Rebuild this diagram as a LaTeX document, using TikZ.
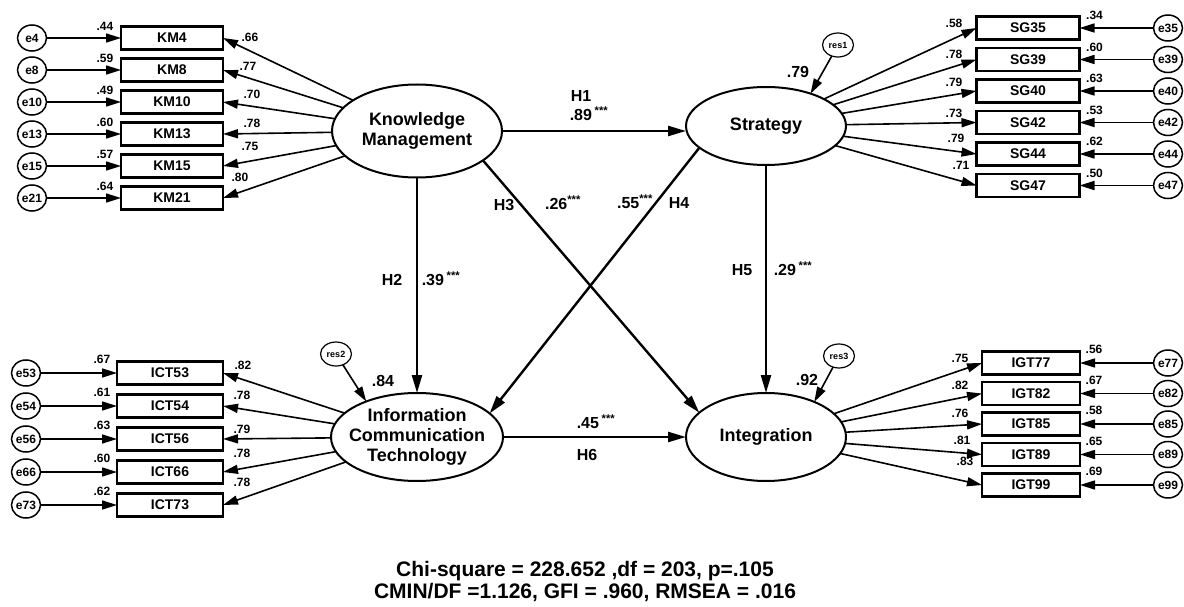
\documentclass[tikz,border=0pt]{standalone}
\usepackage{fontspec}
\setmainfont{Liberation Sans}
\usetikzlibrary{arrows.meta,shapes.geometric,positioning}
\tikzset{
  base/.style={font=\bfseries, align=center, inner sep=0pt, outer sep=0pt},
  latent/.style={ellipse, draw=black, line width=2pt, base, inner xsep=-12pt, font=\fontsize{18}{20}\selectfont\bfseries},
  ind/.style={rectangle, draw=black, line width=2.6pt, minimum width=102pt, minimum height=23pt, base, font=\fontsize{14}{16}\selectfont\bfseries},
  err/.style={ellipse, draw=black, line width=1.5pt, minimum width=29pt, minimum height=26pt, base, inner xsep=-3pt, font=\fontsize{12}{13}\selectfont\bfseries},
  res/.style={ellipse, draw=black, line width=1.2pt, minimum width=31pt, minimum height=24pt, base, font=\fontsize{9}{10}\selectfont\bfseries},
  coef/.style={base, font=\fontsize{12}{14}\selectfont\bfseries},
  hlab/.style={base, font=\fontsize{16}{18}\selectfont\bfseries},
  arrow/.style={-{Triangle[length=15pt,width=9pt]}, line width=1.6pt},
  hyp/.style={-{Triangle[length=18pt,width=10pt]}, line width=2.4pt}
}

\begin{document}
\begin{tikzpicture}[x=1pt, y=-1pt]
  \useasboundingbox (0,0) rectangle (1184,607);

  \node[latent, minimum width=170pt, minimum height=93pt] (KM) at (417,131) {Knowledge\\Management};
  \node[latent, minimum width=160pt, minimum height=78pt] (ST) at (766,126) {Strategy};
  \node[latent, minimum width=172pt, minimum height=88pt] (ICT) at (417,437) {Information\\Communication\\Technology};
  \node[latent, minimum width=160pt, minimum height=88pt] (IG) at (766,437) {Integration};

  \foreach \n/\y/\r/\l/\lx/\ly in {4/38/.44/.66/250/37, 8/70/.59/.77/248/66, 10/102/.49/.70/252/94, 13/134/.60/.78/252/123, 15/166/.57/.75/250/146, 21/198/.64/.80/240/177}{
    \node[ind] (km\n) at (172,\y) {KM\n};
    \node[err] (e\n) at (32,\y) {e\n};
    \node[coef] (rkm\n) at ([xshift=-16pt]km\n.north west) {\r};
    \node[coef] (lkm\n) at (\lx,\ly) {\l};
    \draw[arrow] (e\n) -- (km\n);
    \draw[arrow] (KM) -- (km\n.east);
  }

  \foreach \n/\y/\r/\l/\lx/\ly in {53/373/.67/.82/243/365, 54/406/.61/.78/242/395, 56/439/.63/.79/242/429, 66/472/.60/.78/242/453, 73/505/.62/.78/242/482}{
    \node[ind, minimum width=106pt] (ict\n) at (170,\y) {ICT\n};
    \node[err] (e\n) at (26,\y) {e\n};
    \node[coef] (rict\n) at ([xshift=-15pt,yshift=2pt]ict\n.north west) {\r};
    \node[coef] (lict\n) at (\lx,\ly) {\l};
    \draw[arrow] (e\n) -- (ict\n);
    \draw[arrow] (ICT) -- (ict\n.east);
  }

  \foreach \n/\y/\r/\l/\lx/\ly in {35/28/.34/.58/954/23, 39/59.5/.60/.78/954/54, 40/91/.63/.79/954/82, 42/122.5/.53/.73/954/113, 44/154/.62/.79/956/138, 47/185.5/.50/.71/961/165}{
    \node[ind, minimum width=103pt] (sg\n) at (1028,\y) {SG\n};
    \node[err] (e\n) at (1168,\y) {e\n};
    \node[coef] (rsg\n) at ([xshift=15pt,yshift=1pt]sg\n.north east) {\r};
    \node[coef] (lsg\n) at (\lx,\ly) {\l};
    \draw[arrow] (e\n) -- (sg\n);
    \draw[arrow] (ST) -- (sg\n.west);
  }

  \foreach \n/\y/\r/\l/\lx/\ly in {77/363/.56/.75/960/358, 82/393.5/.67/.82/960/385, 85/424/.58/.76/960/413, 89/454.5/.65/.81/962/440, 99/485/.69/.83/965/461}{
    \node[ind, minimum width=98pt] (igt\n) at (1031,\y) {IGT\n};
    \node[err] (e\n) at (1168,\y) {e\n};
    \node[coef] (rigt\n) at ([xshift=14pt,yshift=2pt]igt\n.north east) {\r};
    \node[coef] (ligt\n) at (\lx,\ly) {\l};
    \draw[arrow] (e\n) -- (igt\n);
    \draw[arrow] (IG) -- (igt\n.west);
  }

  \node[res] (res1) at (838,45) {res1};
  \node[hlab] (sq1) at (798,72) {.79};
  \draw[arrow] (res1) -- (ST.36);
  \node[res] (res2) at (336,354) {res2};
  \node[hlab] (sq2) at (383,381) {.84};
  \draw[arrow] (res2) -- (ICT.145);
  \node[res] (res3) at (839,356) {res3};
  \node[hlab] (sq3) at (807,380) {.92};
  \draw[arrow] (res3) -- (IG.36);

  \draw[hyp] (KM.east) -- (ST.west |- KM.east);
  \draw[hyp] (KM) -- (ICT);
  \draw[hyp] (KM.-24) -- (IG.160);
  \draw[hyp] (ST.198) -- (ICT.18);
  \draw[hyp] (ST) -- (IG);
  \draw[hyp] (ICT) -- (IG);

  \node[hlab] (h1) at (581,96) {H1};
  \node[hlab] (b1) at (589,114) {.89\,\textsuperscript{***}};
  \node[hlab] (h2) at (392,280) {H2};
  \node[hlab] (b2) at (441,279) {.39\,\textsuperscript{***}};
  \node[hlab] (h3) at (504,205) {H3};
  \node[hlab] (b3) at (563,203) {.26\textsuperscript{***}};
  \node[hlab] (b4) at (635,202) {.55\textsuperscript{***}};
  \node[hlab] (h4) at (679,203) {H4};
  \node[hlab] (h5) at (742,270) {H5};
  \node[hlab] (b5) at (793,269) {.29\,\textsuperscript{***}};
  \node[hlab] (b6) at (596,422) {.45\,\textsuperscript{***}};
  \node[hlab] (h6) at (587,455) {H6};

  \node[base, font=\fontsize{21}{22}\selectfont\bfseries] (fitidx) at (585,582) {Chi-square = 228.652 ,df = 203, p=.105\\CMIN/DF =1.126, GFI = .960, RMSEA = .016};
\end{tikzpicture}
\end{document}
